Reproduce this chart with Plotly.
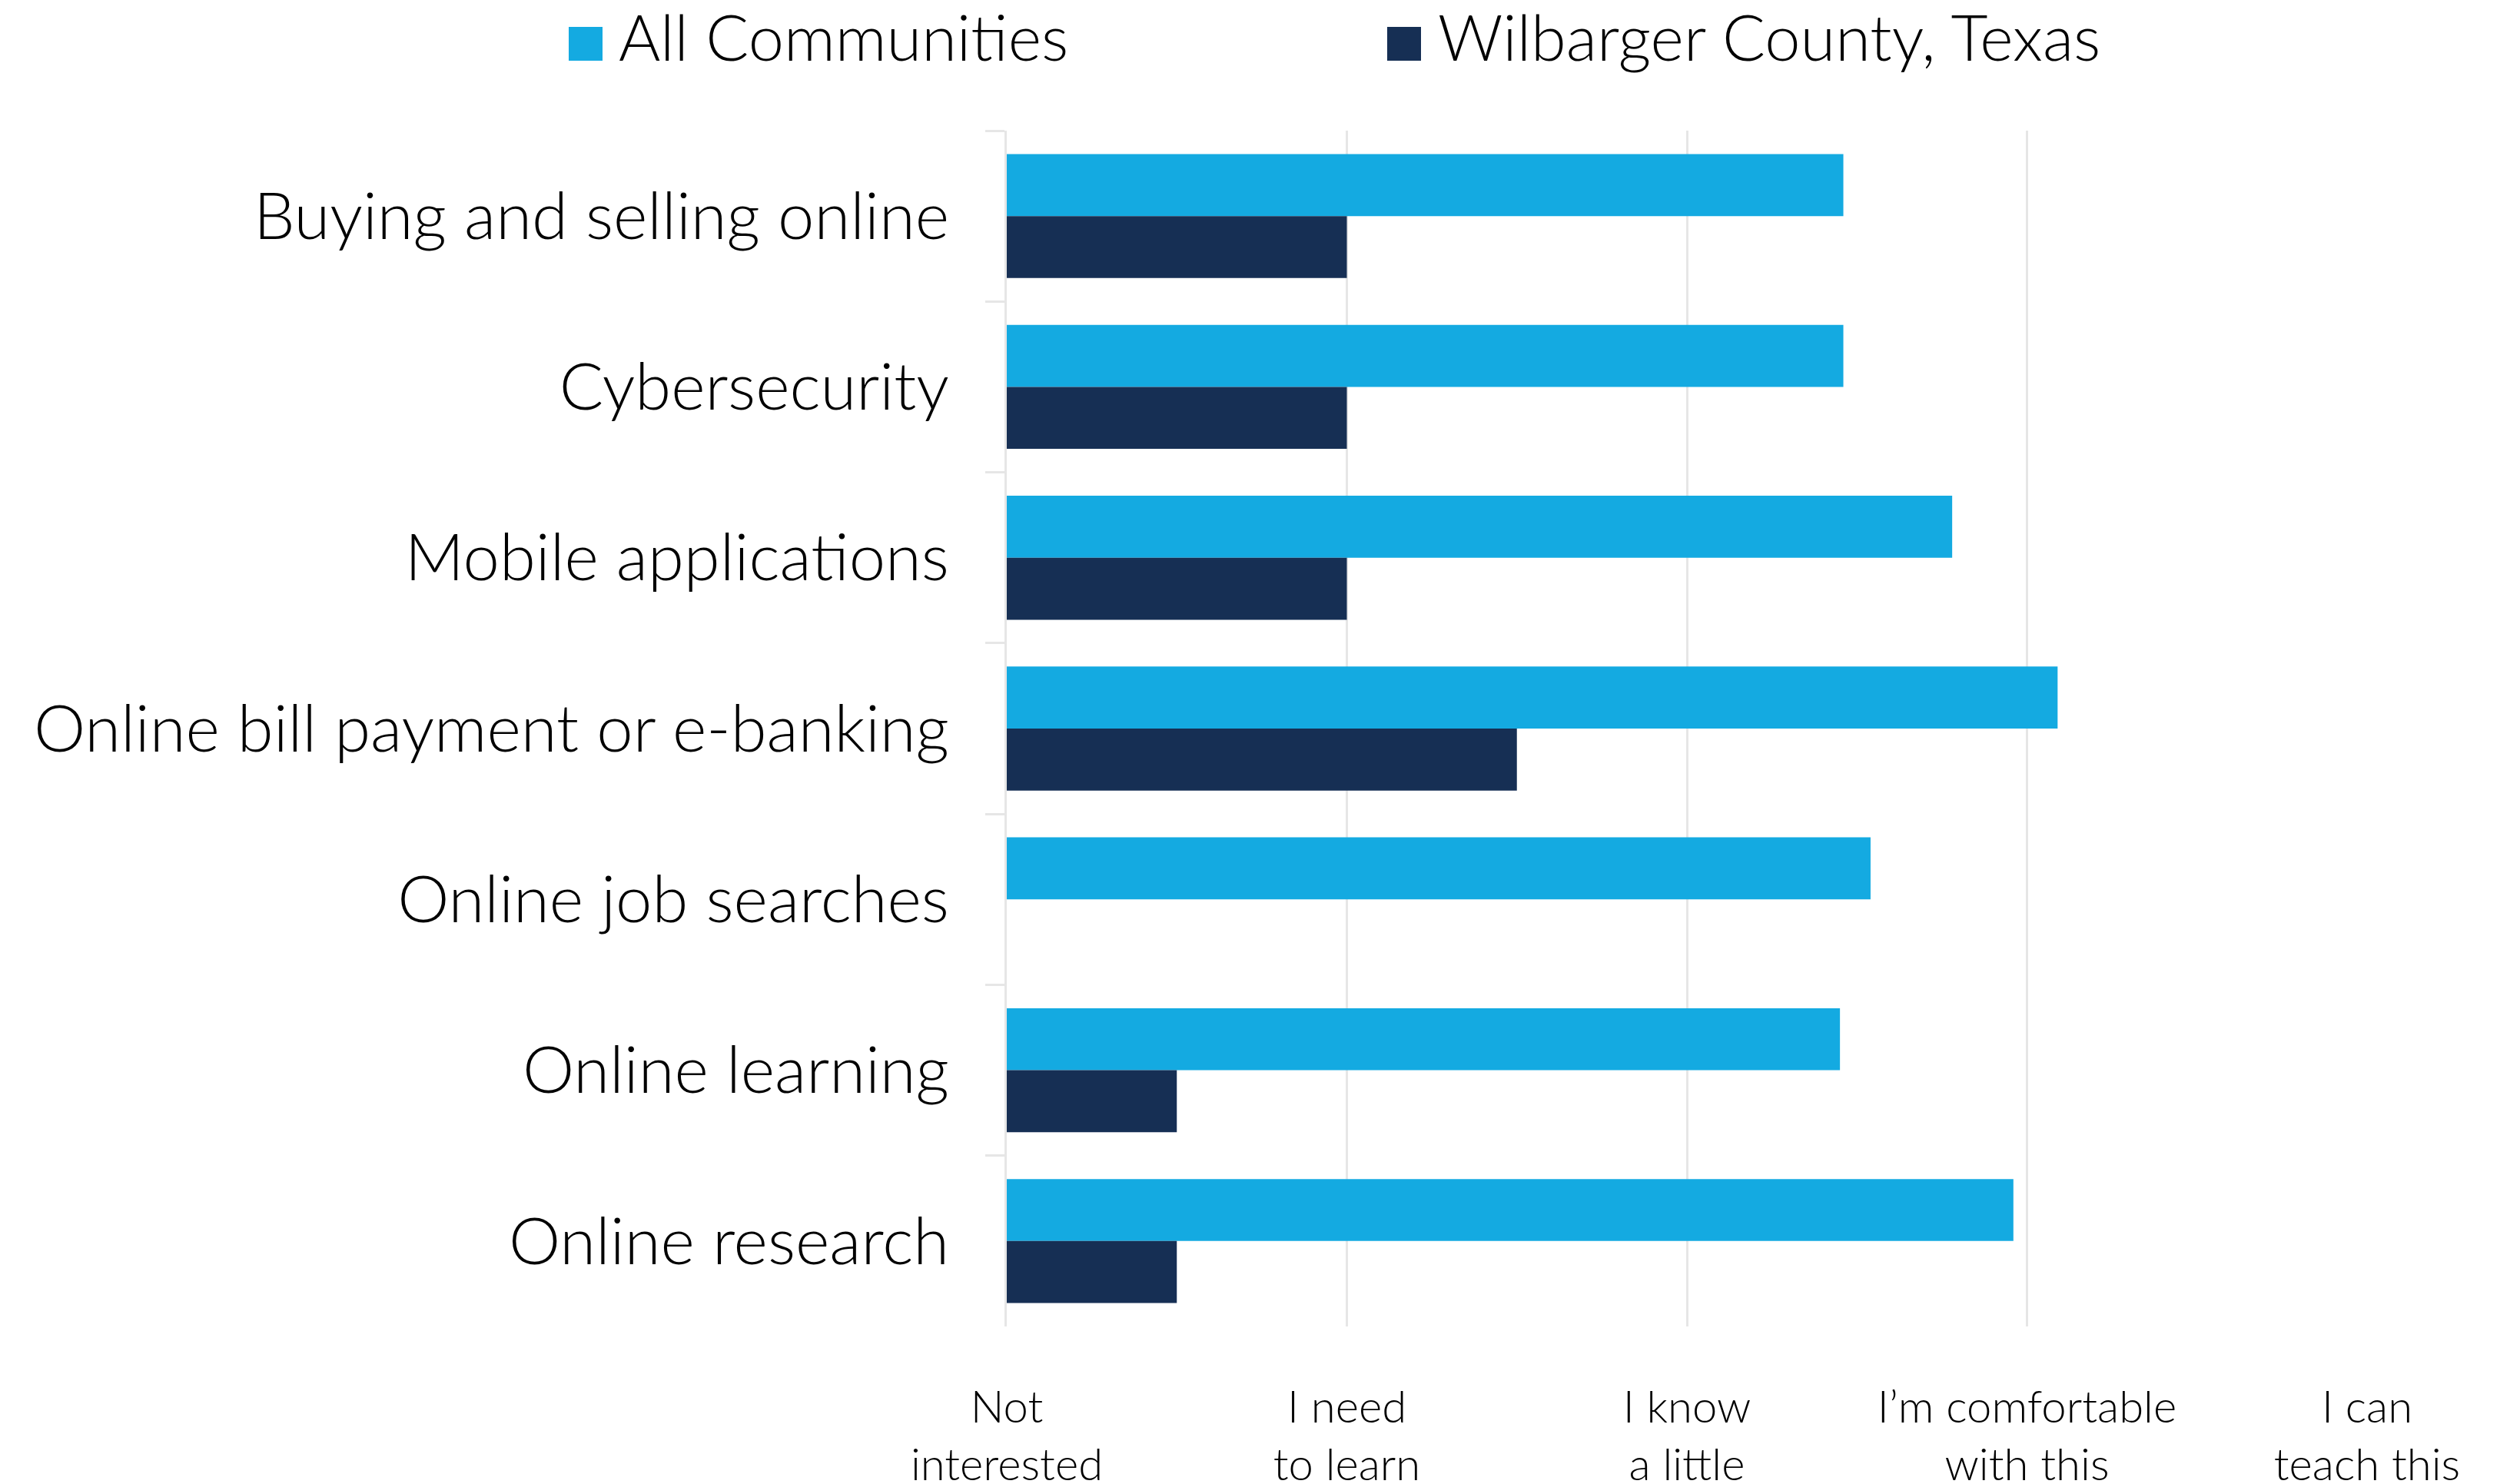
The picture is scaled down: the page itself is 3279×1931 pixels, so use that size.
import plotly.graph_objects as go

categories = [
    "Buying and selling online",
    "Cybersecurity",
    "Mobile applications",
    "Online bill payment or e-banking",
    "Online job searches",
    "Online learning",
    "Online research",
]
all_communities = [2.46, 2.46, 2.78, 3.09, 2.54, 2.45, 2.96]
wilbarger = [1.0, 1.0, 1.0, 1.5, None, 0.5, 0.5]

series_names = ["All Communities", "Wilbarger County, Texas"]
series_colors = ["#14AAE1", "#162F54"]

tick_values = [0, 1, 2, 3, 4]
tick_labels = [
    "Not<br>interested",
    "I need<br>to learn",
    "I know<br>a little",
    "I\u2019m comfortable<br>with this",
    "I can<br>teach this",
]

FONT = "Lato"
BODY = 8  # default page body margin
W, H = 3279 - BODY, 1931 - BODY
# target plot area in window pixels: x 1310..3080, y 170..1726
ML, MT = 1310 - BODY, 170 - BODY
MR = W - (3080 - BODY)
MB = H - (1726 - BODY)

fig = go.Figure()
for name, vals, col in zip(series_names, [all_communities, wilbarger], series_colors):
    fig.add_trace(go.Bar(
        y=categories, x=vals, name=name, orientation="h",
        marker=dict(color=col, line=dict(width=0)),
        showlegend=False,
    ))

fig.update_layout(
    width=W, height=H,
    margin=dict(l=ML, r=MR, t=MT, b=MB, pad=0, autoexpand=False),
    paper_bgcolor="white", plot_bgcolor="white",
    barmode="group", bargap=0.274, bargroupgap=0,
    font=dict(family=FONT, color="#000000"),
)

fig.update_xaxes(
    range=[0, 4], tickvals=tick_values, ticktext=tick_labels,
    showgrid=True, gridcolor="#E6E6E6", gridwidth=3,
    zeroline=False, showline=False, automargin=False,
    ticks="outside", ticklen=54, tickcolor="rgba(0,0,0,0)",
    tickfont=dict(family=FONT, size=58, color="#000000", weight=300),
    fixedrange=True,
)
fig.update_yaxes(
    categoryorder="array", categoryarray=categories, autorange="reversed",
    tickson="boundaries", ticks="outside", ticklen=25, tickwidth=3,
    tickcolor="#E6E6E6", automargin=False,
    showline=True, linecolor="#E6E6E6", linewidth=3,
    showgrid=False, zeroline=False,
    ticklabelstandoff=55,
    tickfont=dict(family=FONT, size=85, color="#000000", weight=300),
    fixedrange=True,
)

# custom legend (large square swatches), positions in window pixels
pw = W - ML - MR
ph = H - MT - MB
def px(x):
    return (x - 1310) / pw
def py(y):
    return (1726 - y) / ph

legend_items = [
    (series_names[0], series_colors[0], 740, 803),
    (series_names[1], series_colors[1], 1805, 1869),
]
for name, col, sx, tx in legend_items:
    fig.add_shape(type="rect", xref="paper", yref="paper",
                  x0=px(sx), x1=px(sx + 44), y0=py(79), y1=py(35),
                  fillcolor=col, line=dict(width=0))
    fig.add_annotation(xref="paper", yref="paper", x=px(tx), y=py(47),
                       xanchor="left", yanchor="middle", showarrow=False,
                       text=name,
                       font=dict(family=FONT, size=83, color="#000000", weight=300))

fig.write_html("out.html")
